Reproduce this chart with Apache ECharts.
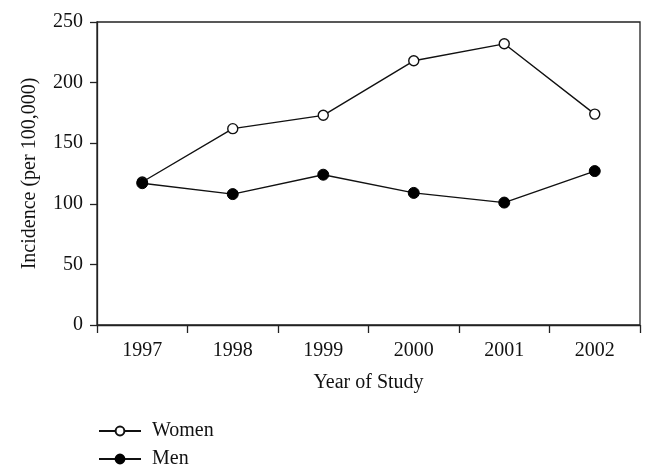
<!DOCTYPE html>
<html>
<head>
<meta charset="utf-8">
<script src="https://cdn.jsdelivr.net/npm/echarts@6/dist/echarts.min.js"></script>
<style>
  html, body { margin: 0; padding: 0; background: #fff; }
  #chart { width: 655px; height: 476px; }
</style>
</head>
<body>
<div id="chart"></div>
<script>
const years = ['1997', '1998', '1999', '2000', '2001', '2002'];
const women = [118, 162, 173, 218, 232, 174];
const men = [117, 108, 124, 109, 101, 127];

const font = 'Liberation Serif';
const chart = echarts.init(document.getElementById('chart'));

chart.setOption({
  animation: false,
  textStyle: { fontFamily: font, color: '#111' },
  grid: {
    left: 97, right: 15, top: 22, bottom: 151,
    show: true, borderColor: '#222', borderWidth: 1.3
  },
  legend: {
    orient: 'vertical',
    left: 93, top: 416,
    itemWidth: 42, itemHeight: 11, itemGap: 8,
    textStyle: { fontFamily: font, fontSize: 20, color: '#111', padding: [0, 0, 0, 6] },
    data: ['Women', 'Men']
  },
  xAxis: {
    type: 'category',
    data: years,
    boundaryGap: true,
    name: 'Year of Study',
    nameLocation: 'middle',
    nameGap: 48,
    nameTextStyle: { fontFamily: font, fontSize: 20, color: '#111' },
    axisLine: { lineStyle: { color: '#222', width: 1.3 } },
    axisTick: { show: true, length: 8, lineStyle: { color: '#222', width: 1.3 } },
    axisLabel: { fontSize: 20, color: '#111', margin: 16 },
    splitLine: { show: false }
  },
  yAxis: {
    type: 'value',
    min: 0, max: 250, interval: 50,
    name: 'Incidence (per 100,000)',
    nameLocation: 'middle',
    nameGap: 57,
    nameTextStyle: { fontFamily: font, fontSize: 20, color: '#111' },
    axisLine: { show: true, lineStyle: { color: '#222', width: 1.3 } },
    axisTick: { show: true, length: 7, lineStyle: { color: '#222', width: 1.3 } },
    axisLabel: { fontSize: 20, color: '#111', margin: 14 },
    splitLine: { show: false }
  },
  series: [
    {
      name: 'Women',
      type: 'line',
      data: women,
      symbol: 'circle',
      symbolSize: 10,
      lineStyle: { color: '#111', width: 1.4 },
      itemStyle: { color: '#fff', borderColor: '#111', borderWidth: 1.4 }
    },
    {
      name: 'Men',
      type: 'line',
      data: men,
      symbol: 'circle',
      symbolSize: 11,
      lineStyle: { color: '#111', width: 1.4 },
      itemStyle: { color: '#000', borderColor: '#000', borderWidth: 1 }
    }
  ]
});
</script>
</body>
</html>
